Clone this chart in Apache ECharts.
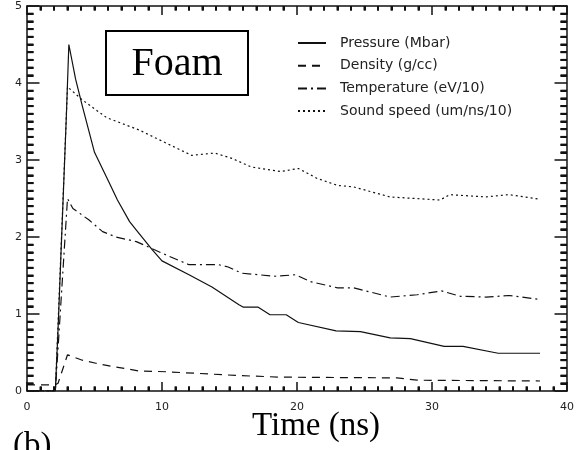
<!DOCTYPE html>
<html>
<head>
<meta charset="utf-8">
<script src="https://cdn.jsdelivr.net/npm/echarts@6/dist/echarts.min.js"></script>
<style>
  html, body { margin: 0; padding: 0; background: #fff; }
  #chart { width: 577px; height: 450px; }
</style>
</head>
<body>
<div id="chart"></div>
<script>
// Foam shock history: time in ns, four state quantities
const pressureTime = [0, 2.1, 2.3, 2.5, 2.7, 2.9, 3.1, 3.6, 4.1, 5.0, 6.1, 6.7, 7.6, 8.1, 9.3, 10.0, 12.0, 13.7, 15.7, 16.0, 17.1, 18.0, 19.2, 20.1, 22.9, 24.7, 26.9, 28.4, 30.9, 32.3, 34.9, 38.0];
const pressureValues = [0, 0, 0.8, 1.7, 2.6, 3.5, 4.5, 4.05, 3.7, 3.1, 2.7, 2.48, 2.2, 2.09, 1.83, 1.69, 1.51, 1.35, 1.12, 1.09, 1.09, 0.99, 0.99, 0.89, 0.78, 0.77, 0.69, 0.68, 0.58, 0.58, 0.49, 0.49];

const densityTime = [0, 2.1, 2.3, 3.0, 4.1, 5.1, 6.3, 8.3, 10.3, 12.5, 15.7, 18.8, 27.4, 28.9, 38.0];
const densityValues = [0.08, 0.08, 0.1, 0.47, 0.40, 0.36, 0.32, 0.26, 0.25, 0.23, 0.20, 0.18, 0.17, 0.14, 0.13];

const temperatureTime = [0, 2.1, 3.0, 3.4, 4.6, 5.6, 6.6, 8.1, 9.0, 10.0, 12.0, 14.2, 14.9, 15.9, 18.4, 19.9, 21.0, 23.0, 24.2, 26.9, 28.9, 30.7, 32.1, 34.0, 35.7, 38.0];
const temperatureValues = [0, 0, 2.5, 2.37, 2.22, 2.07, 2.0, 1.94, 1.87, 1.79, 1.64, 1.64, 1.61, 1.53, 1.49, 1.51, 1.42, 1.34, 1.34, 1.22, 1.25, 1.30, 1.23, 1.22, 1.24, 1.19];

const soundTime = [0, 2.1, 3.0, 4.1, 5.9, 8.3, 10.3, 12.2, 13.9, 15.2, 16.6, 18.8, 20.1, 21.5, 23.0, 24.2, 26.9, 30.6, 31.3, 34.0, 35.7, 38.0];
const soundValues = [0, 0, 3.95, 3.78, 3.55, 3.39, 3.22, 3.06, 3.09, 3.02, 2.91, 2.85, 2.89, 2.76, 2.67, 2.65, 2.52, 2.48, 2.55, 2.52, 2.55, 2.49];

const seriesNames = ['Pressure (Mbar)', 'Density (g/cc)', 'Temperature (eV/10)', 'Sound speed (um/ns/10)'];
const xTicks = [0, 10, 20, 30, 40];
const yTicks = [0, 1, 2, 3, 4, 5];
const xMinorStep = 1;
const yMinorStep = 0.1;

const zip = (xs, ys) => xs.map((x, i) => [x, ys[i]]);

const xMin = xTicks[0], xMax = xTicks[xTicks.length - 1];
const yMin = yTicks[0], yMax = yTicks[yTicks.length - 1];

// minor tick positions (skipping the labelled major ones)
const xMinor = [];
for (let k = 1; k * xMinorStep < xMax; k++) if (k % 10) xMinor.push(+(k * xMinorStep).toFixed(3));
const yMinor = [];
for (let k = 1; k * yMinorStep < yMax - 1e-9; k++) if (k % 10) yMinor.push(+(k * yMinorStep).toFixed(3));

const ink = '#111';
const tickWidth = 2;
const labelFont = { fontFamily: 'DejaVu Sans', fontSize: 11, color: '#222' };

function xAxisCfg(pos, showLabels) {
  return {
    type: 'value', position: pos, min: xMin, max: xMax, interval: xTicks[1] - xTicks[0],
    axisLine: { show: true, onZero: false, lineStyle: { color: ink, width: 1.5 } },
    axisTick: { show: true, inside: true, length: 9, lineStyle: { color: ink, width: 1.5 } },
    minorTick: { show: true, splitNumber: 10, length: 4.5, lineStyle: { color: ink, width: tickWidth } },
    splitLine: { show: false },
    axisLabel: Object.assign({ show: showLabels, margin: 11 }, labelFont)
  };
}
function yAxisCfg(pos, showLabels) {
  return {
    type: 'value', position: pos, min: yMin, max: yMax, interval: yTicks[1] - yTicks[0],
    axisLine: { show: true, onZero: false, lineStyle: { color: ink, width: 1.5 } },
    axisTick: { show: true, inside: true, length: 12.5, lineStyle: { color: ink, width: 1.5 } },
    minorTick: { show: true, splitNumber: 10, length: 6.5, lineStyle: { color: ink, width: tickWidth } },
    splitLine: { show: false },
    axisLabel: Object.assign({ show: showLabels, margin: 5 }, labelFont)
  };
}

// one side of short inward frame ticks, placed through the axis scales
function minorTickSeries(points, side, len) {
  return {
    type: 'custom', coordinateSystem: 'cartesian2d', clip: false,
    data: points,
    renderItem: (params, api) => {
      const p = api.coord([api.value(0), api.value(1)]);
      let dx = 0, dy = 0;
      if (side === 'bottom') dy = -len;
      else if (side === 'top') dy = len;
      else if (side === 'left') dx = len;
      else dx = -len;
      return { type: 'line', shape: { x1: p[0], y1: p[1], x2: p[0] + dx, y2: p[1] + dy },
               style: { stroke: ink, lineWidth: tickWidth } };
    }
  };
}

const styles = ['solid', [8, 6], [9, 4, 2, 4], [2, 3]];
const data = [
  zip(pressureTime, pressureValues),
  zip(densityTime, densityValues),
  zip(temperatureTime, temperatureValues),
  zip(soundTime, soundValues)
];

const chart = echarts.init(document.getElementById('chart'), null, { renderer: 'canvas' });
chart.setOption({
  animation: false,
  backgroundColor: '#fff',
  grid: { left: 27, right: 6, top: 6, bottom: 59, containLabel: false },
  xAxis: [xAxisCfg('bottom', true), xAxisCfg('top', false)],
  yAxis: [yAxisCfg('left', true), yAxisCfg('right', false)],
  legend: {
    orient: 'vertical', left: 297, top: 35, padding: 0,
    itemWidth: 28, itemHeight: 16, itemGap: 6.7,
    itemStyle: { opacity: 0, borderWidth: 0 },
    textStyle: { fontFamily: 'DejaVu Sans', fontSize: 14, lineHeight: 16, color: '#222', padding: [0, 0, 0, 9] },
    data: seriesNames
  },
  series: seriesNames.map((name, i) => ({
    name, type: 'line',
    data: data[i], symbol: 'none', showSymbol: false,
    lineStyle: { color: ink, width: 1.2, type: styles[i] },
    itemStyle: { color: ink },
    silent: true
  })).concat([
    minorTickSeries(xMinor.map(v => [v, yMin]), 'bottom', 4.5),
    minorTickSeries(xMinor.map(v => [v, yMax]), 'top', 4.5),
    minorTickSeries(yMinor.map(v => [xMin, v]), 'left', 6.5),
    minorTickSeries(yMinor.map(v => [xMax, v]), 'right', 6.5)
  ]),
  graphic: [
    {
      type: 'group', left: 105, top: 30,
      children: [
        { type: 'rect', shape: { x: 0, y: 0, width: 142, height: 64 },
          style: { fill: '#fff', stroke: '#000', lineWidth: 2 } },
        { type: 'text', x: 71, y: 33,
          style: { text: 'Foam', fontFamily: 'Liberation Serif', fontSize: 40, fill: '#000',
                   textAlign: 'center', textVerticalAlign: 'middle' } }
      ]
    },
    { type: 'text', left: 252, top: 410,
      style: { text: 'Time (ns)', fontFamily: 'Liberation Serif', fontSize: 33, fill: '#000' } },
    { type: 'text', left: 13, top: 430,
      style: { text: '(b)', fontFamily: 'Liberation Serif', fontSize: 33, fill: '#000' } }
  ]
});
</script>
</body>
</html>
